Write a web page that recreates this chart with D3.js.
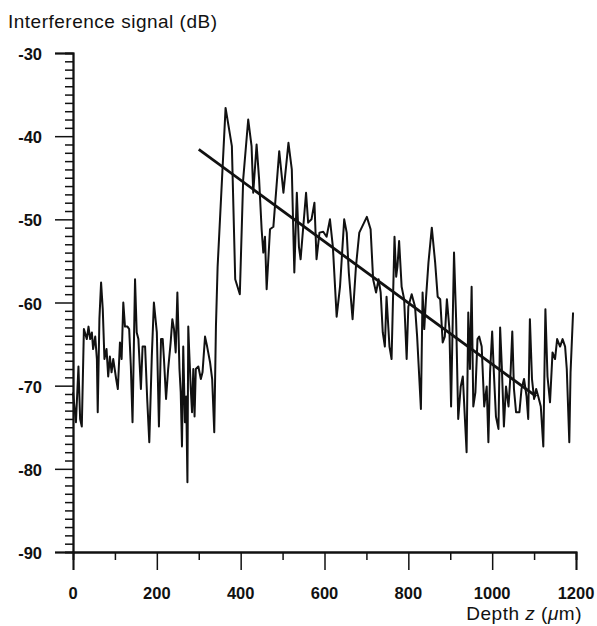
<!DOCTYPE html>
<html>
<head>
<meta charset="utf-8">
<script src="https://cdn.jsdelivr.net/npm/d3@7"></script>
<style>
  body { margin: 0; background: #fff; }
  svg text { font-family: "Liberation Sans", Arial, sans-serif; fill: #111; }
  .tick-label { font-size: 16.5px; font-weight: bold; }
  .axis-title { font-size: 19px; letter-spacing: 0.5px; }
</style>
</head>
<body>
<svg id="chart" width="597" height="626"></svg>
<script>
// depth (um) of each trace point
var depth = [0, 7, 13, 17, 21, 26, 33, 37, 41, 45, 48, 53, 57, 59, 63, 67, 71, 75, 80, 84,
  88, 92, 96, 103, 107, 112, 116, 120, 124, 130, 134, 138, 142, 148, 152, 156, 162, 166, 172, 177,
  182, 188, 193, 200, 205, 210, 214, 217, 222, 227, 233, 237, 241, 245, 249, 254, 257, 260, 263, 267,
  270, 273, 275, 277, 281, 284, 287, 290, 293, 299, 305, 309, 315, 320, 327, 332, 337, 341, 345, 364,
  379, 387, 398, 406, 418, 426, 430, 438, 444, 450, 454, 458, 462, 470, 478, 492, 502, 514, 522, 528,
  534, 539, 543, 556, 561, 569, 576, 581, 588, 597, 605, 613, 620, 629, 637, 647, 653, 658, 667, 675,
  683, 701, 710, 716, 723, 729, 734, 739, 744, 748, 755, 760, 767, 771, 774, 778, 784, 790, 796, 800,
  808, 816, 821, 830, 834, 838, 842, 848, 856, 864, 870, 876, 882, 887, 892, 898, 902, 909, 914, 919,
  925, 930, 935, 939, 943, 947, 951, 955, 960, 965, 969, 975, 981, 987, 991, 995, 1000, 1004, 1009, 1015,
  1019, 1023, 1028, 1033, 1039, 1044, 1048, 1052, 1057, 1065, 1070, 1076, 1082, 1086, 1090, 1095, 1100, 1105, 1110, 1116,
  1122, 1127, 1132, 1138, 1144, 1150, 1155, 1162, 1168, 1174, 1178, 1184, 1187, 1193];

// interference signal (dB) at each depth
var signal = [-70.8, -74.4, -67.7, -74.0, -74.9, -63.2, -64.4, -62.9, -64.4, -63.6, -65.6, -64.1, -66.8, -73.2, -62.0, -57.6, -60.8, -66.8, -65.6, -68.9,
  -66.5, -68.4, -66.8, -69.2, -70.4, -64.8, -66.8, -60.0, -62.9, -62.9, -63.2, -67.7, -74.4, -57.2, -63.6, -64.4, -70.4, -65.3, -65.3, -71.6,
  -76.8, -66.5, -60.0, -63.6, -74.9, -64.4, -64.4, -66.8, -71.6, -68.0, -64.8, -62.0, -63.2, -66.0, -58.8, -68.0, -70.8, -77.3, -65.3, -74.4,
  -71.3, -81.6, -62.9, -65.6, -70.4, -73.2, -68.0, -73.7, -68.0, -67.7, -69.2, -68.4, -64.1, -65.3, -67.2, -69.2, -75.6, -62.9, -55.7, -36.6,
  -41.2, -57.2, -59.0, -45.2, -38.0, -41.2, -46.8, -41.0, -45.2, -51.2, -54.0, -52.1, -58.4, -51.2, -50.9, -41.8, -46.8, -40.8, -44.0, -56.4,
  -46.8, -53.3, -54.8, -46.8, -50.4, -50.0, -48.0, -54.8, -51.6, -51.5, -52.1, -50.0, -53.3, -61.7, -58.1, -50.0, -51.6, -56.4, -62.0, -55.7,
  -51.6, -49.7, -51.2, -57.2, -58.8, -57.2, -58.8, -63.6, -65.3, -59.3, -65.3, -66.8, -52.1, -56.9, -55.7, -52.6, -58.1, -59.6, -66.8, -60.5,
  -59.0, -60.5, -64.1, -72.8, -58.8, -63.2, -59.6, -55.2, -51.0, -55.2, -59.3, -59.6, -64.8, -64.1, -59.6, -63.2, -72.5, -54.0, -62.0, -74.0,
  -70.1, -68.9, -74.0, -78.0, -61.2, -68.0, -58.1, -72.5, -70.8, -64.4, -64.1, -65.3, -72.5, -70.1, -76.8, -68.4, -63.5, -68.4, -73.7, -75.2,
  -63.0, -67.7, -74.9, -70.1, -72.5, -68.4, -63.5, -70.4, -73.2, -73.2, -70.4, -69.2, -71.3, -74.0, -62.0, -69.2, -71.6, -70.4, -71.3, -72.5,
  -77.3, -60.8, -68.9, -72.0, -66.0, -66.8, -64.4, -65.3, -64.4, -65.3, -68.0, -76.8, -68.4, -61.2];

// straight fitted line: end points
var fitDepth = [300, 1105];
var fitSignal = [-41.6, -71.3];

var xTicks = [0, 200, 400, 600, 800, 1000, 1200];
var yTicks = [-30, -40, -50, -60, -70, -80, -90];

var svg = d3.select("#chart");

var x = d3.scaleLinear().domain([0, 1200]).range([73, 576]);
var y = d3.scaleLinear().domain([-90, -30]).range([552, 53]);

// axes: major ticks long, minor ticks short, all pointing out
var xMinor = d3.axisBottom(x).tickValues(d3.range(100, 1200, 200)).tickSize(8).tickFormat("");
var xMajor = d3.axisBottom(x).tickValues(xTicks).tickSize(18).tickFormat("");
var yMinor = d3.axisLeft(y).tickValues(d3.range(-89, -30, 1).filter(function(v) { return v % 10 !== 0; })).tickSize(8).tickFormat("");
var yMajor = d3.axisLeft(y).tickValues(yTicks).tickSize(18).tickFormat("");

[xMinor, xMajor].forEach(function(a) {
  svg.append("g").attr("transform", "translate(0," + y(-90) + ")").call(a);
});
[yMinor, yMajor].forEach(function(a) {
  svg.append("g").attr("transform", "translate(" + x(0) + ",0)").call(a);
});
svg.selectAll(".domain").attr("stroke", "#111").attr("stroke-width", 1.8);
svg.selectAll(".tick line").attr("stroke", "#111").attr("stroke-width", 1.5);

svg.append("g").selectAll("text")
  .data(xTicks).enter().append("text")
    .attr("class", "tick-label")
    .attr("x", function(d) { return x(d); })
    .attr("y", 599)
    .attr("text-anchor", "middle")
    .text(function(d) { return d; });

svg.append("g").selectAll("text")
  .data(yTicks).enter().append("text")
    .attr("class", "tick-label")
    .attr("x", 42)
    .attr("y", function(d) { return y(d) + 7; })
    .attr("text-anchor", "end")
    .text(function(d) { return d; });

// titles
svg.append("text").attr("class", "axis-title")
  .attr("x", 8).attr("y", 28)
  .text("Interference signal (dB)");

var xt = svg.append("text").attr("class", "axis-title")
  .attr("x", 582).attr("y", 620).attr("text-anchor", "end");
xt.append("tspan").text("Depth ");
xt.append("tspan").style("font-style", "italic").text("z");
xt.append("tspan").text(" (");
xt.append("tspan").style("font-style", "italic").text("\u03bc");
xt.append("tspan").text("m)");

// signal trace
var pts = depth.map(function(d, i) { return [d, signal[i]]; });
var line = d3.line()
  .x(function(d) { return x(d[0]); })
  .y(function(d) { return y(d[1]); });

svg.append("path")
  .datum(pts)
  .attr("fill", "none")
  .attr("stroke", "#111")
  .attr("stroke-width", 2)
  .attr("stroke-linejoin", "round")
  .attr("d", line);

// fitted line
svg.append("path")
  .datum(fitDepth.map(function(d, i) { return [d, fitSignal[i]]; }))
  .attr("fill", "none")
  .attr("stroke", "#111")
  .attr("stroke-width", 2.8)
  .attr("d", line);
</script>
</body>
</html>
